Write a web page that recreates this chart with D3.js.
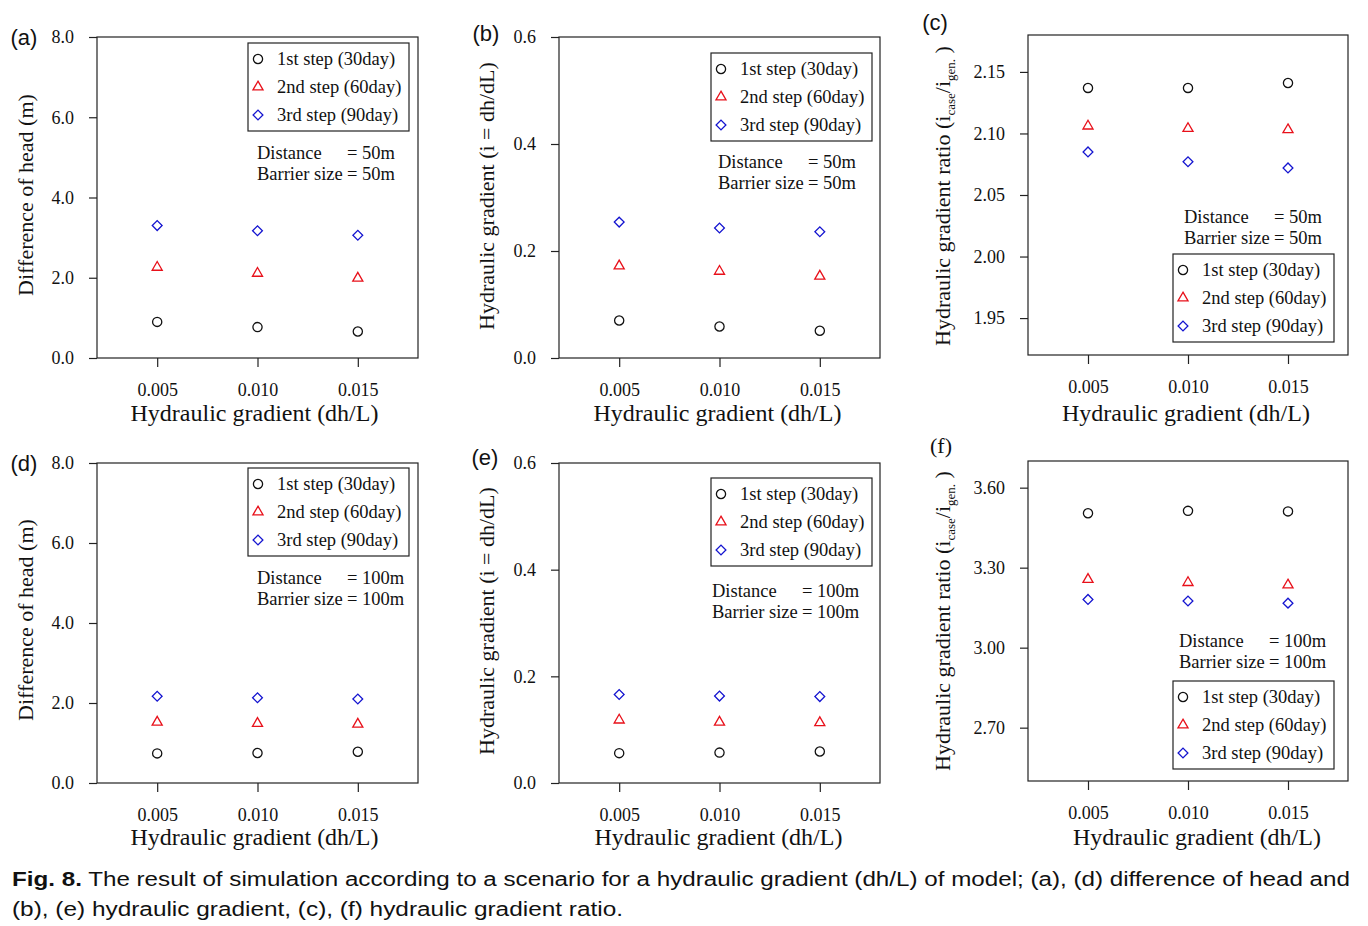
<!DOCTYPE html>
<html>
<head>
<meta charset="utf-8">
<script src="https://cdn.jsdelivr.net/npm/d3@7"></script>
<style>
  body { margin: 0; background: #fff; }
</style>
</head>
<body>
<div id="fig"></div>
<script>
//---------------- data ----------------
var gradients = [0.005, 0.010, 0.015];
var stepNames = ["1st step (30day)", "2nd step (60day)", "3rd step (90day)"];

// (a) difference of head, distance 50m
var headA1 = [0.90, 0.77, 0.66];
var headA2 = [2.26, 2.11, 1.99];
var headA3 = [3.30, 3.17, 3.06];
// (b) hydraulic gradient, distance 50m
var gradB1 = [0.070, 0.059, 0.051];
var gradB2 = [0.172, 0.162, 0.153];
var gradB3 = [0.254, 0.243, 0.236];
// (c) hydraulic gradient ratio, distance 50m
var ratioC1 = [2.137, 2.137, 2.141];
var ratioC2 = [2.106, 2.104, 2.103];
var ratioC3 = [2.085, 2.077, 2.072];
// (d) difference of head, distance 100m
var headD1 = [0.74, 0.75, 0.78];
var headD2 = [1.52, 1.49, 1.47];
var headD3 = [2.17, 2.13, 2.10];
// (e) hydraulic gradient, distance 100m
var gradE1 = [0.056, 0.057, 0.059];
var gradE2 = [0.118, 0.114, 0.113];
var gradE3 = [0.166, 0.163, 0.162];
// (f) hydraulic gradient ratio, distance 100m
var ratioF1 = [3.504, 3.513, 3.511];
var ratioF2 = [3.256, 3.244, 3.235];
var ratioF3 = [3.181, 3.175, 3.167];

// tick labels
var headTicks = [0, 2, 4, 6, 8];
var gradTicks = [0, 0.2, 0.4, 0.6];
var ratioTicksC = [1.95, 2.00, 2.05, 2.10, 2.15];
var ratioTicksF = [2.70, 3.00, 3.30, 3.60];

//---------------- setup ----------------
var W = 1368, H = 926;
var serif = "'Liberation Serif', 'Times New Roman', serif";
var sans = "'Liberation Sans', Arial, sans-serif";
var colors = ["#111", "#e8101a", "#1414d0"];

var svg = d3.select("#fig").append("svg")
    .attr("width", W)
    .attr("height", H);

var panels = [
  {lab: "(a)", labXY: [24, 37], labFont: sans, box: [97, 37, 418, 358], yDom: [0, 8], yTicks: headTicks, yFmt: ".1f",
   yTitle: "Difference of head (m)", yTitleXY: [25, 195], xTitleD: [-3, 55],
   series: [headA1, headA2, headA3], leg: [151, 6], note: [160, 116], dist: "50m"},
  {lab: "(b)", labXY: [486, 33], labFont: sans, box: [559, 37, 880, 358], yDom: [0, 0.6], yTicks: gradTicks, yFmt: ".1f",
   yTitle: "Hydraulic gradient (i = dh/dL)", yTitleXY: [486, 196], xTitleD: [-2, 55],
   series: [gradB1, gradB2, gradB3], leg: [152, 16], note: [159, 125], dist: "50m"},
  {lab: "(c)", labXY: [935, 22], labFont: sans, box: [1028, 35, 1348, 355], yDom: [1.92, 2.18], yTicks: ratioTicksC, yFmt: ".2f",
   yTitle: "ratio", yTitleXY: [942, 196], xTitleD: [-2, 58],
   series: [ratioC1, ratioC2, ratioC3], leg: [145, 219], note: [156, 182], dist: "50m"},
  {lab: "(d)", labXY: [24, 463], labFont: sans, box: [97, 463, 418, 783], yDom: [0, 8], yTicks: headTicks, yFmt: ".1f",
   yTitle: "Difference of head (m)", yTitleXY: [25, 620], xTitleD: [-3, 54],
   series: [headD1, headD2, headD3], leg: [151, 5], note: [160, 115], dist: "100m"},
  {lab: "(e)", labXY: [485, 457], labFont: sans, box: [559, 463, 880, 783], yDom: [0, 0.6], yTicks: gradTicks, yFmt: ".1f",
   yTitle: "Hydraulic gradient (i = dh/dL)", yTitleXY: [486, 621], xTitleD: [-1, 54],
   series: [gradE1, gradE2, gradE3], leg: [152, 15], note: [153, 128], dist: "100m"},
  {lab: "(f)", labXY: [941, 445], labFont: serif, box: [1028, 461, 1348, 781], yDom: [2.5, 3.7], yTicks: ratioTicksF, yFmt: ".2f",
   yTitle: "ratio", yTitleXY: [942, 621], xTitleD: [9, 56],
   series: [ratioF1, ratioF2, ratioF3], leg: [145, 220], note: [151, 180], dist: "100m"}
];

// marker shapes: circle, triangle, diamond
function marker(sel, k) {
  if (k === 0) {
    sel.append("circle").attr("r", 4.6);
  } else if (k === 1) {
    sel.append("path").attr("d", d3.symbol(d3.symbolTriangle, 44)());
  } else {
    sel.append("path").attr("d", d3.symbol(d3.symbolSquare, 48)()).attr("transform", "rotate(45)");
  }
  sel.selectAll("circle,path")
    .attr("fill", "none")
    .attr("stroke", colors[k])
    .attr("stroke-width", 1.3);
}

function drawPanel(p) {
  var x0 = p.box[0], y0 = p.box[1], x1 = p.box[2], y1 = p.box[3];
  var g = svg.append("g");

  var x = d3.scaleLinear().domain([0.002, 0.018]).range([x0, x1]);
  var y = d3.scaleLinear().domain(p.yDom).range([y1, y0]);

  // frame
  g.append("rect")
    .attr("x", x0).attr("y", y0)
    .attr("width", x1 - x0).attr("height", y1 - y0)
    .attr("fill", "none").attr("stroke", "#222").attr("stroke-width", 1.2);

  // y axis
  var ya = g.append("g")
    .attr("transform", "translate(" + x0 + ",0)")
    .call(d3.axisLeft(y).tickValues(p.yTicks).tickSize(8).tickPadding(15).tickFormat(d3.format(p.yFmt)));
  ya.select(".domain").remove();
  ya.attr("font-family", serif).attr("font-size", 18);
  ya.selectAll("line").attr("stroke", "#222").attr("stroke-width", 1.2);
  ya.selectAll("text").attr("fill", "#111");

  // x axis
  var xa = g.append("g")
    .attr("transform", "translate(0," + y1 + ")")
    .call(d3.axisBottom(x).tickValues(gradients).tickSize(9).tickPadding(16).tickFormat(d3.format(".3f")));
  xa.select(".domain").remove();
  xa.attr("font-family", serif).attr("font-size", 18);
  xa.selectAll("line").attr("stroke", "#222").attr("stroke-width", 1.2);
  xa.selectAll("text").attr("fill", "#111");

  // axis titles
  g.append("text")
    .attr("x", (x0 + x1) / 2 + p.xTitleD[0])
    .attr("y", y1 + p.xTitleD[1])
    .attr("text-anchor", "middle")
    .attr("dominant-baseline", "central")
    .attr("font-family", serif).attr("font-size", 24).attr("fill", "#111")
    .text("Hydraulic gradient (dh/L)");

  var yt = g.append("text")
    .attr("transform", "translate(" + p.yTitleXY[0] + "," + p.yTitleXY[1] + ") rotate(-90)")
    .attr("text-anchor", "middle")
    .attr("dy", "0.35em")
    .attr("font-family", serif).attr("font-size", 22).attr("fill", "#111");
  if (p.yTitle === "ratio") {
    yt.append("tspan").text("Hydraulic gradient ratio (i");
    yt.append("tspan").attr("font-size", 13).attr("dy", 5).text("case");
    yt.append("tspan").attr("dy", -5).text("/i");
    yt.append("tspan").attr("font-size", 13).attr("dy", 5).text("gen.");
    yt.append("tspan").attr("dy", -5).text(" )");
  } else {
    yt.text(p.yTitle);
  }

  // panel label
  g.append("text")
    .attr("x", p.labXY[0]).attr("y", p.labXY[1])
    .attr("text-anchor", "middle").attr("dominant-baseline", "central")
    .attr("font-family", p.labFont).attr("font-size", 22).attr("fill", "#111")
    .text(p.lab);

  // points
  p.series.forEach(function(vals, k) {
    g.selectAll(null)
      .data(vals)
      .enter()
      .append("g")
        .attr("transform", function(d, i) { return "translate(" + x(gradients[i]) + "," + y(d) + ")"; })
        .each(function() { marker(d3.select(this), k); });
  });

  // legend
  var lx = x0 + p.leg[0], ly = y0 + p.leg[1];
  var lg = g.append("g").attr("transform", "translate(" + lx + "," + ly + ")");
  lg.append("rect")
    .attr("width", 161).attr("height", 88)
    .attr("fill", "#fff").attr("stroke", "#222").attr("stroke-width", 1.2);
  stepNames.forEach(function(name, k) {
    var row = lg.append("g").attr("transform", "translate(0," + (16 + k * 28) + ")");
    var m = row.append("g").attr("transform", "translate(10,0)");
    marker(m, k);
    row.append("text")
      .attr("x", 29).attr("dominant-baseline", "central")
      .attr("font-family", serif).attr("font-size", 18.5).attr("fill", "#111")
      .text(name);
  });

  // distance / barrier note
  var nx = x0 + p.note[0], ny = y0 + p.note[1];
  [["Distance", p.dist], ["Barrier size", p.dist]].forEach(function(r, i) {
    g.append("text")
      .attr("x", nx).attr("y", ny + i * 21)
      .attr("dominant-baseline", "central")
      .attr("font-family", serif).attr("font-size", 18.5).attr("fill", "#111")
      .text(r[0]);
    g.append("text")
      .attr("x", nx + 90).attr("y", ny + i * 21)
      .attr("dominant-baseline", "central")
      .attr("font-family", serif).attr("font-size", 18.5).attr("fill", "#111")
      .text("= " + r[1]);
  });
}

panels.forEach(drawPanel);

//---------------- caption ----------------
var cap1 = svg.append("text")
  .attr("x", 12).attr("y", 886)
  .attr("font-family", sans).attr("font-size", 20).attr("fill", "#111")
  .attr("textLength", 1338).attr("lengthAdjust", "spacingAndGlyphs");
cap1.append("tspan").attr("font-weight", "bold").text("Fig. 8.");
cap1.append("tspan").text(" The result of simulation according to a scenario for a hydraulic gradient (dh/L) of model; (a), (d) difference of head and");

svg.append("text")
  .attr("x", 12).attr("y", 916)
  .attr("font-family", sans).attr("font-size", 20).attr("fill", "#111")
  .attr("textLength", 611).attr("lengthAdjust", "spacingAndGlyphs")
  .text("(b), (e) hydraulic gradient, (c), (f) hydraulic gradient ratio.");
</script>
</body>
</html>
